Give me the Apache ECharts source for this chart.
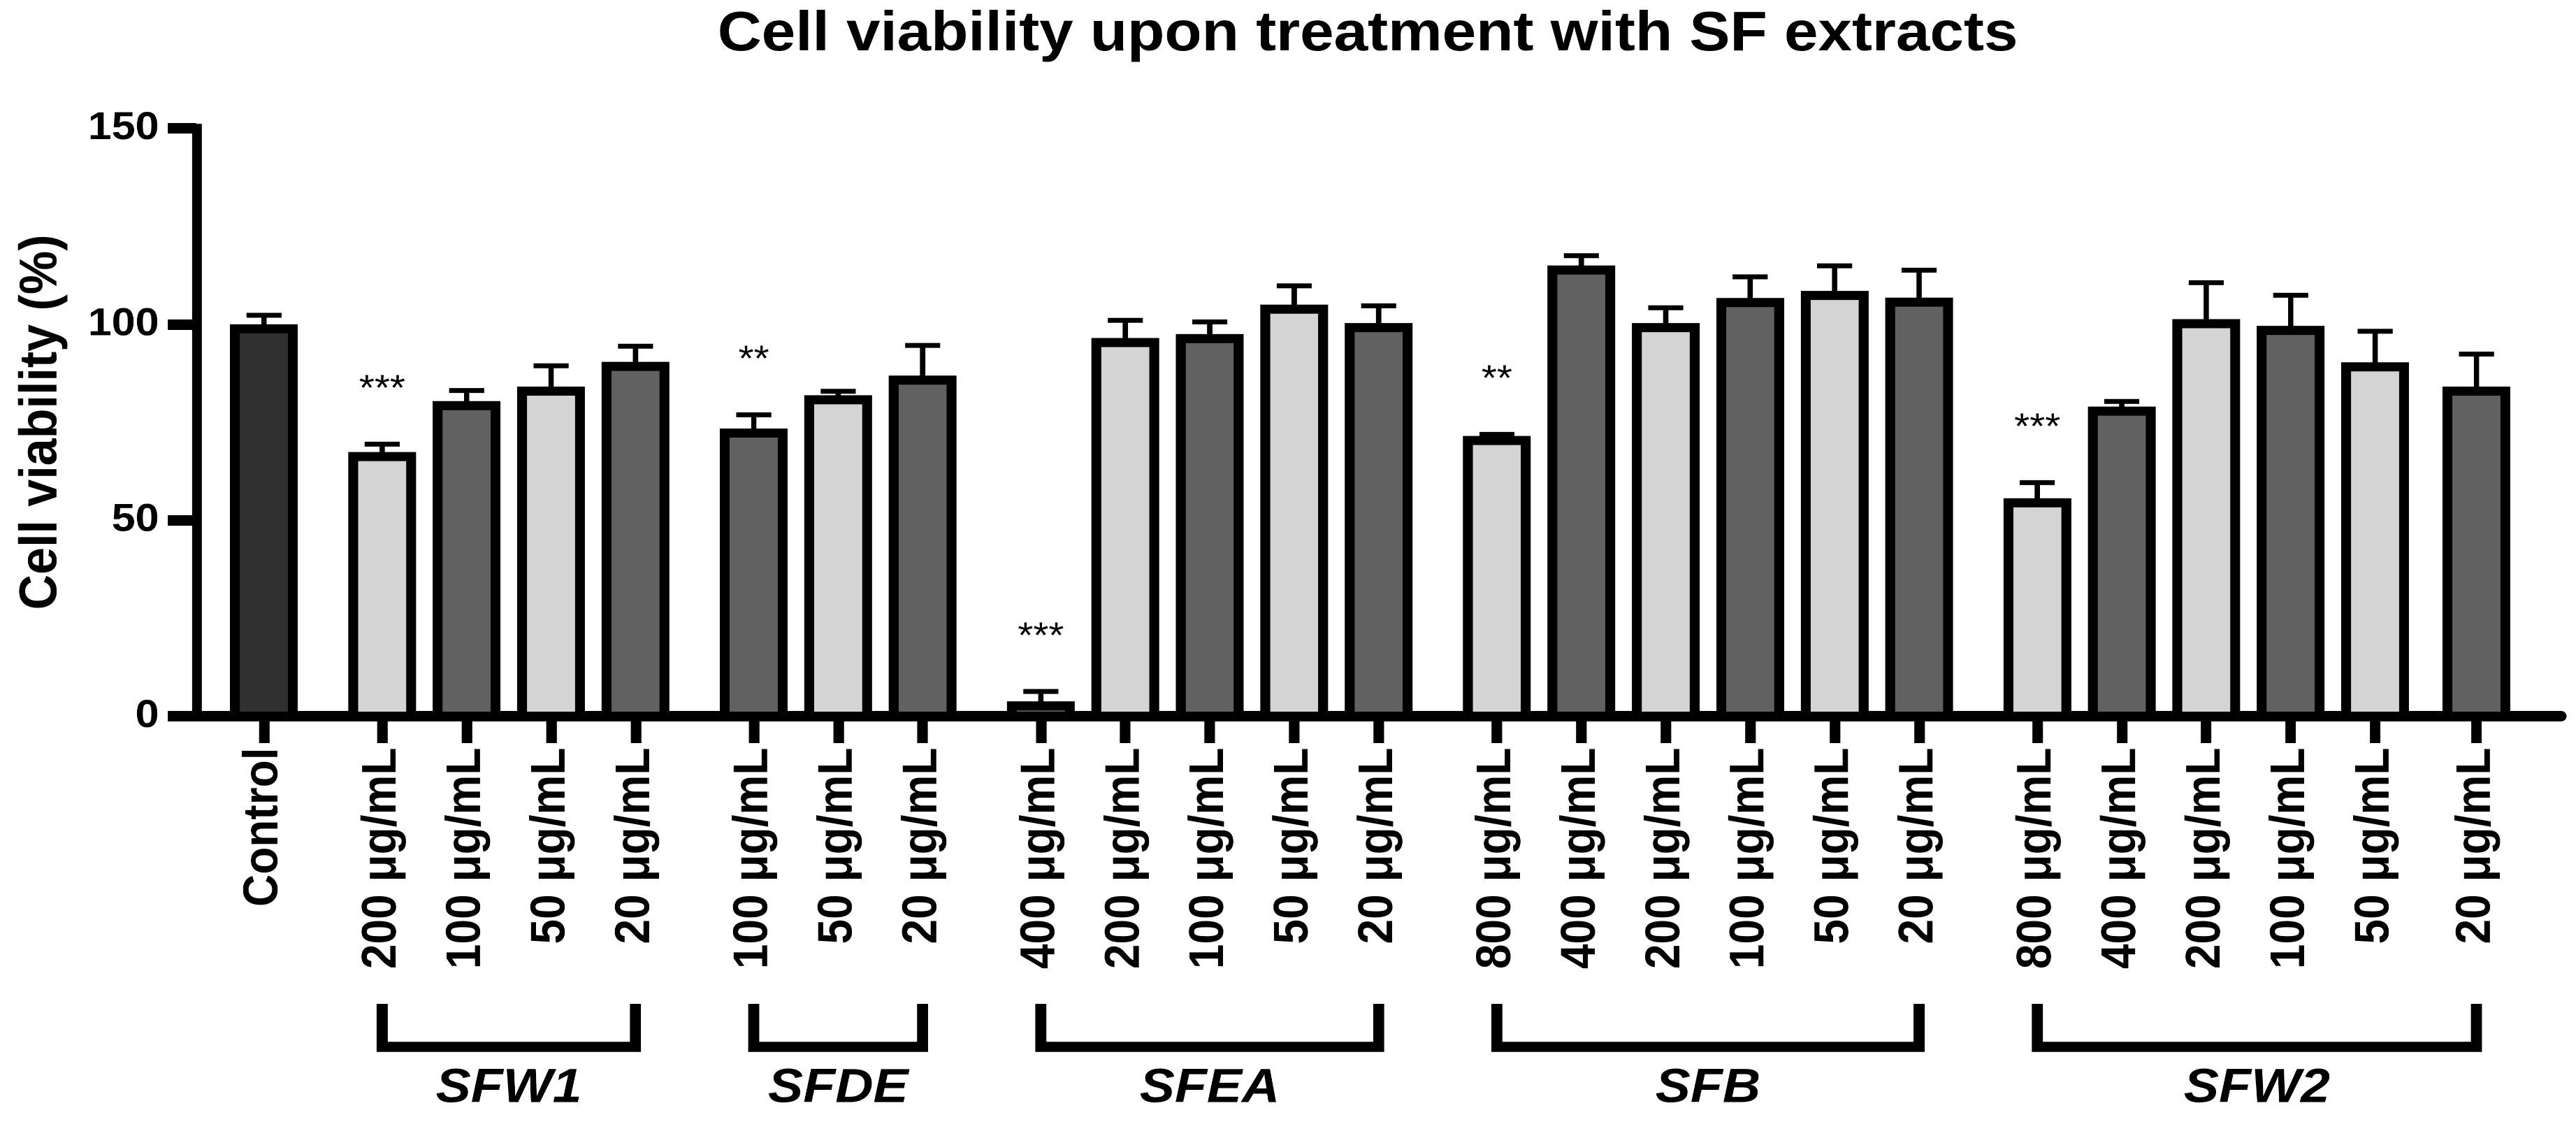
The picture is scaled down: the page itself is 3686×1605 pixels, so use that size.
<!DOCTYPE html>
<html>
<head>
<meta charset="utf-8">
<script src="https://cdn.jsdelivr.net/npm/echarts@6/dist/echarts.min.js"></script>
<style>
html, body { margin: 0; padding: 0; background: #ffffff; overflow: hidden; width: 3686px; height: 1605px; }
#chart { position: absolute; left: 0; top: 0; height: 1605px; transform-origin: 0 0; }
</style>
</head>
<body>
<div id="chart"></div>
<script>
// ---------------- data ----------------
const chartTitle = 'Cell viability upon treatment with SF extracts';
const yAxisTitle = 'Cell viability (%)';
const controlLabel = 'Control';
const groupNames = ['SFW1', 'SFDE', 'SFEA', 'SFB', 'SFW2'];
const doseLabels = [
  ['200 μg/mL', '100 μg/mL', '50 μg/mL', '20 μg/mL'],
  ['100 μg/mL', '50 μg/mL', '20 μg/mL'],
  ['400 μg/mL', '200 μg/mL', '100 μg/mL', '50 μg/mL', '20 μg/mL'],
  ['800 μg/mL', '400 μg/mL', '200 μg/mL', '100 μg/mL', '50 μg/mL', '20 μg/mL'],
  ['800 μg/mL', '400 μg/mL', '200 μg/mL', '100 μg/mL', '50 μg/mL', '20 μg/mL']
];
// mean viability (%) : Control, SFW1 x4, SFDE x3, SFEA x5, SFB x6, SFW2 x6
const viability = [100,
  67.4, 80.4, 84.1, 90.4,
  73.4, 81.9, 86.9,
  3.8, 96.5, 97.5, 105.0, 100.3,
  71.5, 115.0, 100.3, 106.7, 108.5, 106.8,
  55.6, 79.0, 101.3, 99.6, 90.3, 84.1];
const viabilitySD = [2.3,
  2.0, 2.7, 5.3, 4.0,
  3.5, 1.0, 7.7,
  2.5, 4.5, 3.1, 4.8, 4.4,
  0.4, 2.5, 3.9, 5.4, 6.4, 7.0,
  4.0, 1.3, 9.3, 7.8, 7.9, 8.3];
const significance = ['',
  '***', '', '', '',
  '**', '', '',
  '***', '', '', '', '',
  '**', '', '', '', '', '',
  '***', '', '', '', '', ''];
const yMin = 0, yMax = 150, yStep = 50;

// ---------------- layout / style ----------------
const STRETCH = 1.09;               // picture is wider than tall in its glyphs
const PAGE_W = 3686, PAGE_H = 1605;
const W = PAGE_W / STRETCH;
// spacing of bars along the axis, in slots (a bar step is 5 slots)
const slotGapBefore = [4,
  7, 5, 5, 5,
  7, 5, 5,
  7, 5, 5, 5, 5,
  7, 5, 5, 5, 5, 5,
  7, 5, 5, 5, 5, 6];
const slotTail = 5;
const shadeKey = ['c',
  'l', 'd', 'l', 'd',
  'd', 'l', 'd',
  'd', 'l', 'd', 'l', 'd',
  'l', 'd', 'l', 'd', 'l', 'd',
  'l', 'd', 'l', 'd', 'l', 'd'];
const shadeColor = { c: '#303030', l: '#d4d4d4', d: '#616161' };
const FONT = '"Liberation Sans", Arial, Helvetica, sans-serif';

// ---------------- build categories ----------------
const allLabels = [controlLabel].concat(...doseLabels);
const categories = [];
const barCat = [];
allLabels.forEach((lab, i) => {
  const target = i === 0 ? slotGapBefore[0] : barCat[i - 1] + slotGapBefore[i];
  while (categories.length < target) categories.push('');
  barCat.push(categories.length);
  categories.push(lab);
});
const lastTarget = barCat[barCat.length - 1] + slotTail;
while (categories.length <= lastTarget) categories.push('');

const barRows = allLabels.map((lab, i) => [barCat[i], viability[i], viabilitySD[i], i]);
const groupRows = [];
let off = 1;
doseLabels.forEach((labs, g) => {
  groupRows.push([barCat[off], barCat[off + labs.length - 1], 0, g]);
  off += labs.length;
});

// ---------------- chart ----------------
const el = document.getElementById('chart');
el.style.width = W + 'px';
el.style.transform = 'scaleX(' + STRETCH + ')';
const chart = echarts.init(el, null, { renderer: 'canvas', devicePixelRatio: 2 });

const BAR_W = 89, BAR_BORDER = 13;
const CAP_HALF = 23, ERR_W = 7;

function renderBar(params, api) {
  const idx = api.value(0), val = api.value(1), sdv = api.value(2), bi = api.value(3);
  const top = api.coord([idx, val]);
  const base = api.coord([idx, 0]);
  const capPt = api.coord([idx, val + sdv]);
  const children = [];
  children.push({
    type: 'line',
    shape: { x1: top[0], y1: top[1] + 6, x2: capPt[0], y2: capPt[1] },
    style: { stroke: '#000', lineWidth: ERR_W }
  });
  children.push({
    type: 'line',
    shape: { x1: capPt[0] - CAP_HALF, y1: capPt[1], x2: capPt[0] + CAP_HALF, y2: capPt[1] },
    style: { stroke: '#000', lineWidth: ERR_W }
  });
  children.push({
    type: 'rect',
    shape: {
      x: top[0] - BAR_W / 2 + BAR_BORDER / 2,
      y: top[1] + BAR_BORDER / 2,
      width: BAR_W - BAR_BORDER,
      height: Math.max(0, base[1] - top[1] - BAR_BORDER / 2)
    },
    style: { fill: shadeColor[shadeKey[bi]], stroke: '#000', lineWidth: BAR_BORDER }
  });
  const sig = significance[bi];
  if (sig) {
    children.push({
      type: 'text',
      x: capPt[0],
      y: capPt[1] - 77,
      style: { text: sig, fontSize: 52, fontFamily: FONT, fill: '#000', align: 'center', verticalAlign: 'middle' }
    });
  }
  return { type: 'group', children: children };
}

function renderBracket(params, api) {
  const p1 = api.coord([api.value(0), 0]);
  const p2 = api.coord([api.value(1), 0]);
  const g = api.value(3);
  const y0 = p1[1];
  return {
    type: 'group',
    children: [
      {
        type: 'polyline',
        shape: { points: [[p1[0], y0 + 411.5], [p1[0], y0 + 473], [p2[0], y0 + 473], [p2[0], y0 + 411.5]] },
        style: { stroke: '#000', lineWidth: 14.5, fill: null, lineJoin: 'miter', lineCap: 'butt' }
      },
      {
        type: 'text',
        x: (p1[0] + p2[0]) / 2,
        y: y0 + 533,
        style: {
          text: groupNames[g], fontSize: 69, fontWeight: 'bold', fontStyle: 'italic',
          fontFamily: FONT, fill: '#000', align: 'center', verticalAlign: 'middle'
        }
      }
    ]
  };
}

const showCat = function (index, value) { return value !== ''; };

chart.setOption({
  animation: false,
  backgroundColor: '#ffffff',
  textStyle: { fontFamily: FONT },
  title: {
    text: chartTitle,
    left: 942,
    top: 10,
    padding: 0,
    textStyle: { fontSize: 80, fontWeight: 'bold', color: '#000', fontFamily: FONT }
  },
  grid: { left: 257.8, right: W - 3664 / STRETCH, top: 183.5, bottom: PAGE_H - 1024.5, containLabel: false },
  xAxis: {
    type: 'category',
    data: categories,
    boundaryGap: false,
    axisLine: { show: true, lineStyle: { color: '#000', width: 15 } },
    axisTick: { show: true, interval: showCat, length: 38.5, lineStyle: { color: '#000', width: 13.8 } },
    axisLabel: {
      show: true, interval: showCat, rotate: 90, margin: 45,
      fontSize: 64, fontWeight: 'bold', color: '#000', fontFamily: FONT
    },
    splitLine: { show: false }
  },
  yAxis: {
    type: 'value',
    min: yMin, max: yMax, interval: yStep,
    name: yAxisTitle,
    nameLocation: 'middle',
    nameRotate: 90,
    nameGap: 168,
    nameTextStyle: { fontSize: 70, fontWeight: 'bold', color: '#000', fontFamily: FONT },
    axisLine: { show: true, lineStyle: { color: '#000', width: 12.8, cap: 'square' } },
    axisTick: { show: true, length: 37.6, lineStyle: { color: '#000', width: 15 } },
    axisLabel: { show: true, margin: 49, fontSize: 56, fontWeight: 'bold', color: '#000', fontFamily: FONT },
    splitLine: { show: false }
  },
  series: [
    {
      type: 'custom',
      name: 'viability',
      renderItem: renderBar,
      data: barRows,
      encode: { x: 0, y: 1 },
      clip: false,
      z: 3
    },
    {
      type: 'custom',
      name: 'groups',
      renderItem: renderBracket,
      data: groupRows,
      encode: { x: [0, 1], y: 2 },
      clip: false,
      z: 3
    }
  ]
});
</script>
</body>
</html>
